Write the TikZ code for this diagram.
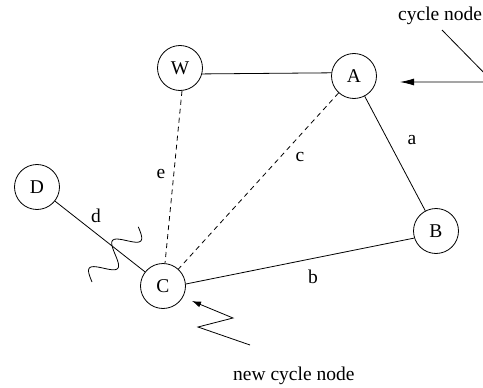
\documentclass[tikz,border=0pt]{standalone}
\usepackage{fontspec}
\setmainfont{Liberation Serif}
\usetikzlibrary{arrows.meta}
\begin{document}
\begin{tikzpicture}[x=1pt,y=-1pt,
  vertex/.style={draw,circle,minimum size=45pt,inner sep=0pt,line width=0.8pt,font=\fontsize{19.5}{22}\selectfont},
  lbl/.style={inner sep=0pt,font=\fontsize{19.5}{22}\selectfont},
  edge/.style={line width=0.8pt},
  dedge/.style={line width=0.8pt,dash pattern=on 5pt off 4pt},
  bigtip/.style={-{Latex[length=14pt,width=7pt]}},
  smalltip/.style={-{Latex[length=9pt,width=6pt]}}]
\useasboundingbox (0,0) rectangle (483,388);
\clip (0,0) rectangle (483,388);
% vertices
\node[vertex] (W) at (180,68) {W};
\node[vertex] (A) at (354,76) {A};
\node[vertex] (B) at (436,231) {B};
\node[vertex] (C) at (163,286) {C};
\node[vertex] (D) at (37,187) {D};
% edges
\draw[edge] (W.-15) -- (A.172);
\draw[edge] (A) -- (B);
\draw[edge] (C.5) -- (B.198);
\draw[edge] (D) -- (C);
\draw[dedge] (W.-85) -- (C.85);
\draw[dedge] (A) -- (C);
% edge labels
\node[lbl] (la) at (412,140) {a};
\node[lbl] (lb) at (313,277) {b};
\node[lbl] (lc) at (300,157) {c};
\node[lbl] (ld) at (96,216) {d};
\node[lbl] (le) at (161,174) {e};
% squiggle across edge d
\draw[edge] plot[smooth,domain=0:72,samples=73,variable=\t]
  ({92+0.643*\t-0.766*11*sin(10*\t)},{282-0.766*\t-0.643*11*sin(10*\t)});
% cycle node annotation (top right)
\node[lbl,anchor=base west] (cyc) at (398,20.5) {cycle node};
\coordinate (k1) at (442,30);
\coordinate (k2) at (493,82);
\coordinate (k3) at (400,82);
\draw[edge,bigtip] (k1) -- (k2) -- (k3);
% new cycle node annotation (bottom)
\node[lbl,anchor=base west] (ncyc) at (233,380) {new cycle node};
\coordinate (z1) at (250,345);
\coordinate (z2) at (198,327);
\coordinate (z3) at (233,318);
\coordinate (z4) at (192,301);
\draw[edge,smalltip] (z1) -- (z2) -- (z3) -- (z4);
\end{tikzpicture}
\end{document}
